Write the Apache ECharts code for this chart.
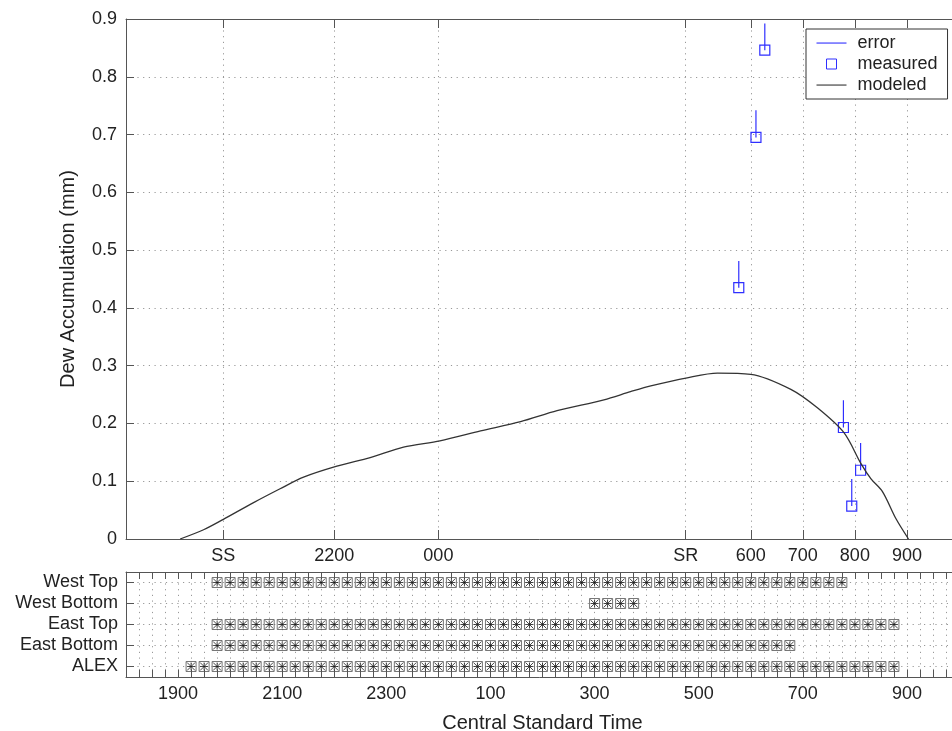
<!DOCTYPE html>
<html>
<head>
<meta charset="utf-8">
<script src="https://cdn.jsdelivr.net/npm/echarts@6/dist/echarts.min.js"></script>
<style>
  html, body { margin: 0; padding: 0; background: #fff; }
  #chart { width: 952px; height: 731px; }
</style>
</head>
<body>
<div id="chart"></div>
<script>
// x is measured in hours after 18:00 CST (0 = 1800, 16 = 1000)
const topTickHours = [1.87, 4, 6, 10.75, 12, 13, 14, 15]
const topTickLabels = ['SS', '2200', '000', 'SR', '600', '700', '800', '900']
const bottomTickHours = [1, 3, 5, 7, 9, 11, 13, 15]
const bottomTickLabels = ['1900', '2100', '2300', '100', '300', '500', '700', '900']

// modeled dew accumulation (mm)
const modelHours = [1.04, 1.49, 1.87, 2.45, 2.96, 3.41, 4.05, 4.69, 5.33, 6.03, 6.81, 7.58, 8.28, 9.18, 9.69,
  10.08, 10.78, 11.36, 12.0, 12.77, 13.28, 13.79, 14.12, 14.31, 14.53, 14.79, 15.03]
const modelDew = [0, 0.016, 0.034, 0.063, 0.087, 0.107, 0.126, 0.141, 0.159, 0.170, 0.187, 0.203, 0.222, 0.241, 0.255,
  0.265, 0.279, 0.287, 0.285, 0.259, 0.227, 0.184, 0.130, 0.104, 0.082, 0.035, 0]

// measured dew and its error
const measuredHours = [11.77, 12.10, 12.27, 13.78, 13.94, 14.11]
const measuredDew = [0.435, 0.695, 0.846, 0.193, 0.057, 0.119]
const measuredErr = [0.046, 0.047, 0.046, 0.047, 0.047, 0.047]

// sensor availability (15 minute samples, clock time HHMM)
const rowNames = ['West Top', 'West Bottom', 'East Top', 'East Bottom', 'ALEX']
const sampleTimes = [1915, 1930, 1945, 2000, 2015, 2030, 2045, 2100, 2115, 2130, 2145, 2200, 2215, 2230, 2245,
  2300, 2315, 2330, 2345, 0, 15, 30, 45, 100, 115, 130, 145, 200, 215, 230, 245, 300, 315, 330, 345,
  400, 415, 430, 445, 500, 515, 530, 545, 600, 615, 630, 645, 700, 715, 730, 745, 800, 815, 830, 845]
const rowFirst = [1945, 300, 1945, 1945, 1915]
const rowLast = [745, 345, 845, 645, 845]

const FONT = 'Liberation Sans'
const BLUE = '#2f2fff'
const AXIS = '#555'
const DOT = { color: '#999', width: 1, type: [1.2, 4.5] }
const LINE_ICON = 'path://M0,0M30,14M0,6.5H30V7.6H0Z'

function toHours (t) {
  const h = Math.floor(t / 100) + (t % 100) / 60
  return (h - 18 + 24) % 24
}

const errData = []
measuredHours.forEach((x, i) => {
  errData.push([x, measuredDew[i]], [x, measuredDew[i] + measuredErr[i]], null)
})
const measData = measuredHours.map((x, i) => [x, measuredDew[i]])
const modelData = modelHours.map((x, i) => [x, modelDew[i]])

const sensorData = []
rowNames.forEach((name, r) => {
  const a = sampleTimes.indexOf(rowFirst[r])
  const b = sampleTimes.indexOf(rowLast[r])
  sampleTimes.slice(a, b + 1).forEach(t => sensorData.push([toHours(t), r + 1]))
})

const myChart = echarts.init(document.getElementById('chart'))
const option = {
  animation: false,
  textStyle: { fontFamily: FONT },
  grid: [
    { left: 126, top: 19, width: 833, height: 520, outerBoundsMode: 'none', containLabel: false },
    { left: 126, top: 572, width: 833, height: 105, outerBoundsMode: 'none', containLabel: false }
  ],
  legend: {
    left: 806,
    top: 29,
    orient: 'vertical',
    padding: [5, 10, 5, 10],
    itemGap: 3,
    itemWidth: 30,
    itemHeight: 14,
    borderColor: '#333',
    borderWidth: 1,
    borderRadius: 0,
    backgroundColor: '#fff',
    textStyle: { fontFamily: FONT, fontSize: 18, color: '#222', padding: [0, 0, 0, 6] },
    data: [
      { name: 'error', icon: LINE_ICON, itemStyle: { color: BLUE, borderWidth: 0 } },
      {
        name: 'measured',
        icon: 'path://M0,0M30,14M10,2H20V12H10Z',
        itemStyle: { color: 'transparent', borderColor: BLUE, borderWidth: 1 }
      },
      { name: 'modeled', icon: LINE_ICON, itemStyle: { color: '#333', borderWidth: 0 } }
    ]
  },
  xAxis: [
    {
      gridIndex: 0, type: 'value', min: 0, max: 16,
      axisLine: { lineStyle: { color: AXIS } },
      axisTick: { inside: true, length: 9, customValues: topTickHours, lineStyle: { color: AXIS } },
      axisLabel: {
        customValues: topTickHours, margin: 8, fontSize: 18, color: '#222', fontFamily: FONT,
        formatter: v => topTickLabels[topTickHours.indexOf(v)]
      },
      splitLine: { show: true, lineStyle: DOT }
    },
    {
      gridIndex: 0, type: 'value', min: 0, max: 16, position: 'top',
      axisLine: { lineStyle: { color: AXIS } },
      axisTick: { inside: true, length: 9, customValues: topTickHours, lineStyle: { color: AXIS } },
      axisLabel: { show: false },
      splitLine: { show: false }
    },
    {
      gridIndex: 1, type: 'value', min: 0, max: 16, interval: 0.25,
      name: 'Central Standard Time', nameLocation: 'middle', nameGap: 36,
      nameTextStyle: { fontSize: 20, color: '#222', fontFamily: FONT },
      axisLine: { lineStyle: { color: AXIS } },
      axisTick: { inside: true, length: 7, lineStyle: { color: AXIS } },
      axisLabel: {
        customValues: bottomTickHours, margin: 8, fontSize: 18, color: '#222', fontFamily: FONT,
        formatter: v => bottomTickLabels[bottomTickHours.indexOf(v)]
      },
      splitLine: { show: true, lineStyle: DOT }
    },
    {
      gridIndex: 1, type: 'value', min: 0, max: 16, interval: 0.25, position: 'top',
      axisLine: { lineStyle: { color: AXIS } },
      axisTick: { inside: true, length: 7, lineStyle: { color: AXIS } },
      axisLabel: { show: false },
      splitLine: { show: false }
    }
  ],
  yAxis: [
    {
      gridIndex: 0, type: 'value', min: 0, max: 0.9, interval: 0.1,
      name: 'Dew Accumulation (mm)', nameLocation: 'middle', nameGap: 48,
      nameTextStyle: { fontSize: 20, color: '#222', fontFamily: FONT },
      axisLine: { show: true, lineStyle: { color: AXIS } },
      axisTick: { show: true, inside: true, length: 8, lineStyle: { color: AXIS } },
      axisLabel: {
        margin: 9, fontSize: 18, color: '#222', fontFamily: FONT,
        formatter: v => (v === 0 ? '0' : v.toFixed(1))
      },
      splitLine: { show: true, lineStyle: DOT }
    },
    {
      gridIndex: 1, type: 'value', min: 0.5, max: 5.5, inverse: true,
      axisLine: { show: true, lineStyle: { color: AXIS } },
      axisTick: { show: true, inside: true, length: 8, customValues: [1, 2, 3, 4, 5], lineStyle: { color: AXIS } },
      axisLabel: {
        customValues: [1, 2, 3, 4, 5], margin: 8, fontSize: 18, color: '#222', fontFamily: FONT,
        formatter: v => rowNames[v - 1]
      },
      splitLine: { show: true, lineStyle: DOT }
    }
  ],
  series: [
    {
      name: 'error', type: 'line', xAxisIndex: 0, yAxisIndex: 0,
      data: errData, symbol: 'none', connectNulls: false,
      lineStyle: { color: BLUE, width: 1.2 }, itemStyle: { color: BLUE }
    },
    {
      name: 'measured', type: 'scatter', xAxisIndex: 0, yAxisIndex: 0,
      data: measData, symbol: 'rect', symbolSize: 10,
      itemStyle: { color: 'transparent', borderColor: BLUE, borderWidth: 1.2, opacity: 1 }
    },
    {
      name: 'modeled', type: 'line', xAxisIndex: 0, yAxisIndex: 0,
      data: modelData, symbol: 'none', smooth: 0.3,
      lineStyle: { color: '#333', width: 1.3 }, itemStyle: { color: '#333' }
    },
    {
      name: 'sensors', type: 'scatter', xAxisIndex: 2, yAxisIndex: 1,
      data: sensorData, symbolSize: 10,
      symbol: 'rect',
      itemStyle: { color: 'transparent', borderColor: '#555', borderWidth: 1 }
    },
    {
      name: 'sensorMarks', type: 'scatter', xAxisIndex: 2, yAxisIndex: 1,
      data: sensorData, symbolSize: 8,
      symbol: 'path://M0,0L8,8 M8,0L0,8 M4,0V8 M0,4H8',
      itemStyle: { color: 'transparent', borderColor: '#1a1a1a', borderWidth: 1 }
    }
  ]
}
myChart.setOption(option)
</script>
</body>
</html>
